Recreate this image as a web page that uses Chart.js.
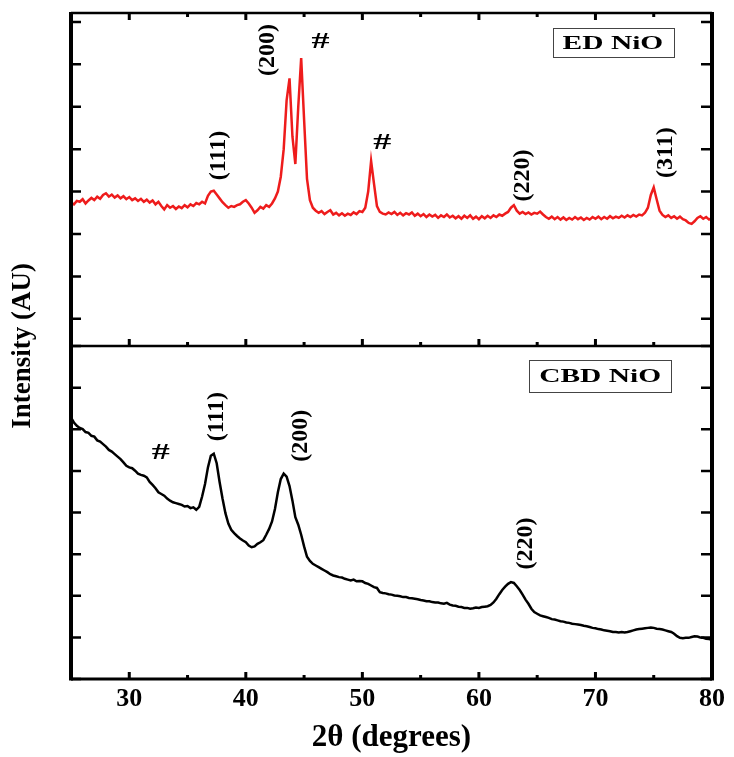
<!DOCTYPE html>
<html>
<head>
<meta charset="utf-8">
<script src="https://cdn.jsdelivr.net/npm/chart.js@4.4.1/dist/chart.umd.min.js"></script>
<style>
    html, body { margin: 0; padding: 0; background: #fff; }
    #wrap { width: 734px; height: 757px; position: relative; }
</style>
</head>
<body>
<div id="wrap"><canvas id="xrdChart"></canvas></div>
<script>
// 2theta positions (degrees)
const twoTheta = [
    25, 25.25, 25.5, 25.75, 26, 26.25, 26.5, 26.75, 27, 27.25, 27.5, 27.75,
    28, 28.25, 28.5, 28.75, 29, 29.25, 29.5, 29.75, 30, 30.25, 30.5, 30.75,
    31, 31.25, 31.5, 31.75, 32, 32.25, 32.5, 32.75, 33, 33.25, 33.5, 33.75,
    34, 34.25, 34.5, 34.75, 35, 35.25, 35.5, 35.75, 36, 36.25, 36.5, 36.75,
    37, 37.25, 37.5, 37.75, 38, 38.25, 38.5, 38.75, 39, 39.25, 39.5, 39.75,
    40, 40.25, 40.5, 40.75, 41, 41.25, 41.5, 41.75, 42, 42.25, 42.5, 42.75,
    43, 43.25, 43.5, 43.75, 44, 44.25, 44.5, 44.75, 45, 45.25, 45.5, 45.75,
    46, 46.25, 46.5, 46.75, 47, 47.25, 47.5, 47.75, 48, 48.25, 48.5, 48.75,
    49, 49.25, 49.5, 49.75, 50, 50.25, 50.5, 50.75, 51, 51.25, 51.5, 51.75,
    52, 52.25, 52.5, 52.75, 53, 53.25, 53.5, 53.75, 54, 54.25, 54.5, 54.75,
    55, 55.25, 55.5, 55.75, 56, 56.25, 56.5, 56.75, 57, 57.25, 57.5, 57.75,
    58, 58.25, 58.5, 58.75, 59, 59.25, 59.5, 59.75, 60, 60.25, 60.5, 60.75,
    61, 61.25, 61.5, 61.75, 62, 62.25, 62.5, 62.75, 63, 63.25, 63.5, 63.75,
    64, 64.25, 64.5, 64.75, 65, 65.25, 65.5, 65.75, 66, 66.25, 66.5, 66.75,
    67, 67.25, 67.5, 67.75, 68, 68.25, 68.5, 68.75, 69, 69.25, 69.5, 69.75,
    70, 70.25, 70.5, 70.75, 71, 71.25, 71.5, 71.75, 72, 72.25, 72.5, 72.75,
    73, 73.25, 73.5, 73.75, 74, 74.25, 74.5, 74.75, 75, 75.25, 75.5, 75.75,
    76, 76.25, 76.5, 76.75, 77, 77.25, 77.5, 77.75, 78, 78.25, 78.5, 78.75,
    79, 79.25, 79.5, 79.75, 80
];

// ED NiO intensity (top panel, AU)
const edNiO = [
    274, 270, 278, 276, 282, 272, 279, 285, 280, 288, 283, 292,
    296, 288, 293, 286, 291, 284, 289, 282, 287, 280, 284, 278,
    283, 276, 281, 274, 279, 270, 276, 266, 258, 268, 262, 266,
    259, 265, 261, 268, 263, 270, 266, 273, 270, 276, 272, 290,
    300, 302, 293, 284, 275, 268, 262, 266, 264, 268, 270, 276,
    280, 272, 262, 250, 256, 264, 260, 268, 264, 272, 284, 300,
    335, 400, 515, 567, 430, 365, 500, 615, 470, 330, 280, 262,
    255, 250, 254, 247, 252, 256, 246, 250, 244, 249, 243, 248,
    245, 251, 247, 254, 252, 262, 300, 372, 318, 266, 252, 248,
    246, 251, 247, 252, 245, 250, 244, 249, 246, 251, 243, 248,
    242, 247, 240, 246, 241, 245, 238, 244, 240, 246, 239, 243,
    237, 242, 236, 243, 238, 244, 236, 241, 235, 242, 237, 243,
    238, 244, 240, 246, 243, 248, 252, 262, 268, 255, 248, 252,
    247, 251, 246, 250, 248, 253, 246, 240, 236, 241, 235, 240,
    234, 239, 233, 238, 234, 240, 235, 239, 233, 238, 234, 240,
    236, 241, 235, 240, 236, 242, 237, 241, 238, 243, 239, 244,
    240, 245, 241, 246, 244, 250, 262, 292, 310, 282, 255, 245,
    240, 244, 238, 242, 236, 241, 235, 232, 226, 224, 230, 238,
    242, 236, 240, 234, 238
];

// CBD NiO intensity (bottom panel, AU)
const cbdNiO = [
    540, 528, 520, 515, 512, 505, 503, 496, 494, 485, 482, 476,
    470, 462, 458, 452, 446, 440, 432, 424, 420, 418, 412, 405,
    402, 400, 396, 385, 378, 370, 360, 356, 352, 345, 340, 336,
    334, 332, 330, 326, 327, 322, 324, 318, 325, 350, 380, 420,
    448, 453, 430, 385, 345, 310, 285, 270, 262, 255, 249, 244,
    240, 232, 228, 230, 236, 240, 245, 258, 272, 290, 320, 360,
    392, 405, 398, 375, 340, 300, 282, 258, 230, 205, 195, 188,
    184, 180, 176, 172, 168, 163, 160, 158, 156, 155, 152, 150,
    148, 150, 146, 147, 146, 142, 140, 136, 132, 130, 120, 118,
    117, 115, 114, 112, 111, 110, 108, 108, 106, 105, 104, 103,
    101, 100, 98, 98, 96, 95, 95, 93, 92, 94, 90, 88,
    87, 85, 84, 82, 82, 80, 81, 83, 82, 84, 85, 86,
    89, 95, 104, 115, 125, 133, 140, 144, 142, 134, 125, 114,
    102, 92, 80, 72, 68, 64, 62, 60, 58, 55, 54, 52,
    50, 49, 47, 46, 44, 43, 42, 41, 39, 38, 36, 34,
    33, 31, 30, 28, 27, 26, 24, 24, 23, 24, 23, 24,
    26, 28, 30, 31, 32, 33, 34, 35, 34, 32, 31, 30,
    28, 26, 24, 20, 14, 10, 9, 10, 10, 12, 14, 13,
    11, 10, 8, 7, 5
];

// peak annotations (data coords)
const edPeakText = ['(111)', '(200)', '#', '#', '(220)', '(311)'];
const edPeakX = [37.7, 41.9, 46.4, 51.7, 63.8, 76.0];
const edPeakY = [385, 634, 652, 416, 338, 392];
const cbdPeakText = ['#', '(111)', '(200)', '(220)'];
const cbdPeakX = [32.7, 37.5, 44.7, 64.0];
const cbdPeakY = [456, 542, 496, 237];

const serif = "'Liberation Serif', 'Times New Roman', serif";

const frameAndTicks = {
    id: 'frameAndTicks',
    afterDatasetsDraw(chart) {
        const { ctx, chartArea } = chart;
        const { left, right, top, bottom } = chartArea;
        const xs = chart.scales.x;
        const yTop = chart.scales.yTop;
        const yBot = chart.scales.yBot;
        const mid = yTop.bottom;
        ctx.save();
        ctx.strokeStyle = '#000';
        ctx.lineCap = 'butt';

        // y ticks pointing inward, both sides
        ctx.lineWidth = 2.5;
        [yTop, yBot].forEach(sc => {
            sc.ticks.forEach(t => {
                const py = sc.getPixelForValue(t.value);
                ctx.beginPath();
                ctx.moveTo(left, py); ctx.lineTo(left + 10, py);
                ctx.moveTo(right, py); ctx.lineTo(right - 11, py);
                ctx.stroke();
            });
        });

        // x ticks: down from top, up from panel divider, up from bottom
        ctx.lineWidth = 3;
        xs.ticks.forEach(t => {
            if (t.value <= 25 || t.value >= 80) return;
            const px = xs.getPixelForValue(t.value);
            const len = t.value % 10 === 0 ? 7 : 4;
            ctx.beginPath();
            ctx.moveTo(px, top); ctx.lineTo(px, top + len);
            ctx.moveTo(px, mid); ctx.lineTo(px, mid - len);
            ctx.moveTo(px, bottom); ctx.lineTo(px, bottom - len);
            ctx.stroke();
        });

        // frame
        ctx.lineWidth = 2.5;
        ctx.beginPath();
        ctx.moveTo(left, top); ctx.lineTo(right, top);
        ctx.moveTo(left, mid); ctx.lineTo(right, mid);
        ctx.stroke();
        ctx.lineWidth = 3;
        ctx.beginPath();
        ctx.moveTo(left, bottom); ctx.lineTo(right, bottom);
        ctx.stroke();
        ctx.lineWidth = 4;
        ctx.beginPath();
        ctx.moveTo(left, top - 1); ctx.lineTo(left, bottom + 1.5);
        ctx.moveTo(right, top - 1); ctx.lineTo(right, bottom + 1.5);
        ctx.stroke();

        // y title
        ctx.fillStyle = '#000';
        ctx.font = 'bold 27px ' + serif;
        ctx.textAlign = 'center';
        ctx.textBaseline = 'middle';
        ctx.translate(left - 48, (top + bottom) / 2);
        ctx.rotate(-Math.PI / 2);
        ctx.fillText('Intensity (AU)', 0, 0);
        ctx.restore();
    }
};

function drawPeakLabels(ctx, xs, ys, texts, xv, yv) {
    texts.forEach((txt, i) => {
        const px = xs.getPixelForValue(xv[i]);
        const py = ys.getPixelForValue(yv[i]);
        ctx.save();
        ctx.translate(px, py);
        ctx.font = 'bold 24px ' + serif;
        if (txt === '#') {
            ctx.scale(1.5, 1);
        } else {
            ctx.rotate(-Math.PI / 2);
        }
        ctx.fillText(txt, 0, 0);
        ctx.restore();
    });
}

function drawBox(ctx, xs, ys, txt, xv, yv, h) {
    const px = xs.getPixelForValue(xv);
    const py = ys.getPixelForValue(yv);
    ctx.save();
    ctx.font = 'bold 19px ' + serif;
    const sx = 1.55;
    const w = ctx.measureText(txt).width * sx + 20;
    ctx.strokeStyle = '#444';
    ctx.lineWidth = 1;
    ctx.strokeRect(Math.round(px - w / 2) + 0.5, Math.round(py - h / 2) + 0.5, Math.round(w), h);
    ctx.translate(px, py + 1);
    ctx.scale(sx, 1);
    ctx.fillText(txt, 0, 0);
    ctx.restore();
}

const annotations = {
    id: 'annotations',
    afterDatasetsDraw(chart) {
        const { ctx } = chart;
        const xs = chart.scales.x;
        ctx.save();
        ctx.fillStyle = '#000';
        ctx.textAlign = 'center';
        ctx.textBaseline = 'middle';
        drawPeakLabels(ctx, xs, chart.scales.yTop, edPeakText, edPeakX, edPeakY);
        drawPeakLabels(ctx, xs, chart.scales.yBot, cbdPeakText, cbdPeakX, cbdPeakY);
        drawBox(ctx, xs, chart.scales.yTop, 'ED NiO', 71.5, 651, 29);
        drawBox(ctx, xs, chart.scales.yBot, 'CBD NiO', 70.4, 640, 32);
        ctx.restore();
    }
};

const hiddenY = {
    type: 'linear',
    position: 'left',
    stack: 'xrd',
    stackWeight: 1,
    afterFit: s => { s.width = 71; },
    grid: { display: false, drawTicks: false },
    border: { display: false },
    ticks: { display: false, stepSize: 100, includeBounds: false }
};

const ctx = document.getElementById('xrdChart').getContext('2d');
new Chart(ctx, {
    type: 'line',
    data: {
        datasets: [
            {
                label: 'ED NiO',
                data: twoTheta.map((t, i) => ({ x: t, y: edNiO[i] })),
                yAxisID: 'yTop',
                borderColor: '#ee1c1c',
                borderWidth: 2.5,
                pointRadius: 0,
                tension: 0
            },
            {
                label: 'CBD NiO',
                data: twoTheta.map((t, i) => ({ x: t, y: cbdNiO[i] })),
                yAxisID: 'yBot',
                borderColor: '#000',
                borderWidth: 2.5,
                pointRadius: 0,
                tension: 0
            }
        ]
    },
    options: {
        responsive: true,
        maintainAspectRatio: false,
        animation: false,
        layout: { padding: { top: 13, right: 22, bottom: 0, left: 0 } },
        plugins: {
            legend: { display: false },
            tooltip: { enabled: false }
        },
        scales: {
            x: {
                type: 'linear',
                min: 25,
                max: 80,
                afterFit: s => { s.height = 78; },
                grid: { display: false, drawTicks: false },
                border: { display: false },
                ticks: {
                    stepSize: 5,
                    autoSkip: false,
                    maxRotation: 0,
                    padding: 5,
                    color: '#000',
                    font: { family: serif, weight: 'bold', size: 26 },
                    callback: v => (v % 10 === 0 && v > 25) ? v : ''
                },
                title: {
                    display: true,
                    text: '2θ (degrees)',
                    color: '#000',
                    font: { family: serif, weight: 'bold', size: 31 },
                    padding: { top: 0, bottom: 0 }
                }
            },
            yBot: Object.assign({}, hiddenY, { weight: 0, min: -89, max: 712 }),
            yTop: Object.assign({}, hiddenY, { weight: 1, min: -64, max: 721 })
        }
    },
    plugins: [frameAndTicks, annotations]
});
</script>
</body>
</html>
